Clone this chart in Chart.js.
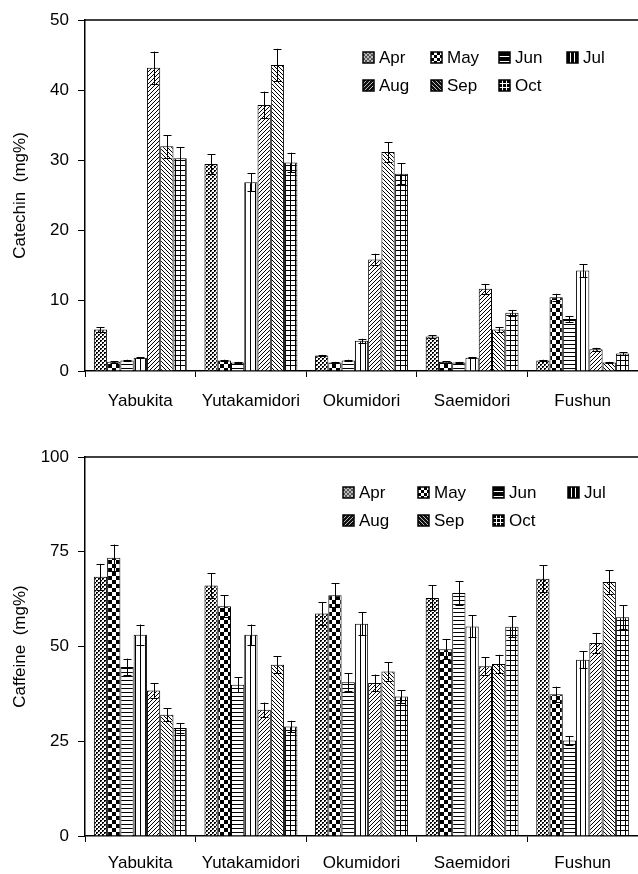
<!DOCTYPE html>
<html>
<head>
<meta charset="utf-8">
<script src="https://cdn.jsdelivr.net/npm/chart.js@4"></script>
<style>
  html, body { margin: 0; padding: 0; background: #fff; }
  #top { width: 638px; height: 420px; }
  #bottom { width: 638px; height: 454px; }
  .box { position: relative; }
</style>
</head>
<body>
<div class="box" id="top"><canvas id="catechin_chart"></canvas></div>
<div class="box" id="bottom"><canvas id="caffeine_chart"></canvas></div>
<script>
const cultivars = ["Yabukita", "Yutakamidori", "Okumidori", "Saemidori", "Fushun"];
const months = ["Apr", "May", "Jun", "Jul", "Aug", "Sep", "Oct"];

// catechin (mg%), one array per month across cultivars
const catAPR = [5.9, 29.5, 2.2, 4.9, 1.5];
const catMAY = [1.3, 1.5, 1.2, 1.3, 10.5];
const catJUN = [1.5, 1.2, 1.5, 1.2, 7.4];
const catJUL = [1.9, 26.9, 4.3, 1.9, 14.3];
const catAUG = [43.2, 37.9, 15.9, 11.7, 3.1];
const catSEP = [32.0, 43.6, 31.2, 5.9, 1.2];
const catOCT = [30.3, 29.7, 28.1, 8.3, 2.5];
const catErrAPR = [0.35, 1.4, 0.1, 0.2, 0.1];
const catErrMAY = [0.1, 0.1, 0.1, 0.1, 0.5];
const catErrJUN = [0.1, 0.1, 0.1, 0.1, 0.4];
const catErrJUL = [0.1, 1.3, 0.3, 0.1, 0.9];
const catErrAUG = [2.3, 1.9, 0.8, 0.7, 0.2];
const catErrSEP = [1.6, 2.3, 1.4, 0.3, 0.1];
const catErrOCT = [1.6, 1.4, 1.5, 0.4, 0.2];

// caffeine (mg%)
const cafAPR = [68.4, 66.1, 58.7, 62.8, 67.9];
const cafMAY = [73.4, 60.6, 63.5, 49.3, 37.4];
const cafJUN = [44.6, 39.9, 40.6, 64.1, 25.2];
const cafJUL = [53.1, 53.1, 56.0, 55.3, 46.5];
const cafAUG = [38.4, 33.3, 40.4, 44.8, 50.9];
const cafSEP = [32.0, 45.2, 43.4, 45.4, 67.0];
const cafOCT = [28.5, 28.9, 36.8, 55.2, 57.7];
const cafErrAPR = [3.4, 3.2, 3.0, 3.3, 3.5];
const cafErrMAY = [3.5, 2.9, 3.2, 2.7, 2.0];
const cafErrJUN = [2.2, 2.0, 2.4, 3.1, 1.2];
const cafErrJUL = [2.7, 2.7, 3.0, 2.9, 2.2];
const cafErrAUG = [1.9, 1.9, 2.2, 2.3, 2.7];
const cafErrSEP = [1.7, 2.2, 2.4, 2.4, 3.1];
const cafErrOCT = [1.3, 1.5, 1.6, 2.8, 3.2];

const catTicks = [0, 10, 20, 30, 40, 50];
const cafTicks = [0, 25, 50, 75, 100];

const FONT = "Liberation Sans, Arial, sans-serif";

// hatch patterns, one per month (bg/fg swapped for the legend swatches)
function makePattern(size, draw, bg, fg) {
  const c = document.createElement("canvas");
  c.width = size; c.height = size;
  const g = c.getContext("2d");
  g.fillStyle = bg;
  g.fillRect(0, 0, size, size);
  g.fillStyle = fg;
  g.strokeStyle = fg;
  draw(g, size);
  return c.getContext("2d").createPattern(c, "repeat");
}
const drawers = [
  [4, (g) => { g.fillRect(0, 0, 2, 2); g.fillRect(2, 2, 2, 2); g.fillStyle = "#888"; g.fillRect(1, 1, 1, 1); g.fillRect(3, 3, 1, 1); }],
  [8, (g) => { g.fillRect(0, 0, 4, 4); g.fillRect(4, 4, 4, 4); }],
  [4, (g) => { g.fillRect(0, 0, 4, 1); }],
  [5, (g) => { g.fillRect(0, 0, 1, 5); }],
  [4, (g) => { g.lineWidth = 1; g.beginPath(); g.moveTo(0, 4); g.lineTo(4, 0); g.moveTo(-1, 1); g.lineTo(1, -1); g.moveTo(3, 5); g.lineTo(5, 3); g.stroke(); }],
  [4, (g) => { g.lineWidth = 1; g.beginPath(); g.moveTo(0, 0); g.lineTo(4, 4); g.moveTo(3, -1); g.lineTo(5, 1); g.moveTo(-1, 3); g.lineTo(1, 5); g.stroke(); }],
  [5, (g) => { g.fillRect(0, 0, 5, 1); g.fillRect(0, 0, 1, 5); }],
];
const patterns = drawers.map(([s, d]) => makePattern(s, d, "#fff", "#000"));
const legendFill = [
  makePattern(4, (g) => { g.fillRect(0, 0, 2, 2); g.fillRect(2, 2, 2, 2); }, "#555", "#bbb"),
  makePattern(6, (g) => { g.fillRect(0, 0, 3, 3); g.fillRect(3, 3, 3, 3); }, "#fff", "#000"),
  makePattern(5, (g) => { g.fillRect(0, 4, 5, 1); }, "#000", "#fff"),
  makePattern(4, (g) => { g.fillRect(3, 0, 1, 4); }, "#000", "#fff"),
  makePattern(4, (g) => { g.lineWidth = 1; g.beginPath(); g.moveTo(0, 4); g.lineTo(4, 0); g.stroke(); }, "#111", "#bbb"),
  makePattern(4, (g) => { g.lineWidth = 1; g.beginPath(); g.moveTo(0, 0); g.lineTo(4, 4); g.stroke(); }, "#111", "#bbb"),
  makePattern(4, (g) => { g.fillRect(0, 3, 4, 1); g.fillRect(3, 0, 1, 4); }, "#000", "#fff"),
];

const errorBars = {
  id: "errorBars",
  afterDatasetsDraw(chart) {
    const ctx = chart.ctx;
    const ys = chart.scales.y;
    ctx.save();
    ctx.strokeStyle = "#000";
    ctx.lineWidth = 1;
    chart.data.datasets.forEach((ds, di) => {
      const meta = chart.getDatasetMeta(di);
      meta.data.forEach((bar, i) => {
        const v = ds.data[i], e = ds.errors[i];
        const x = Math.round(bar.x) + 0.5;
        const y1 = ys.getPixelForValue(v + e), y2 = ys.getPixelForValue(v - e);
        const cap = 4;
        ctx.beginPath();
        ctx.moveTo(x, y1); ctx.lineTo(x, y2);
        ctx.moveTo(x - cap, Math.round(y1) + 0.5); ctx.lineTo(x + cap, Math.round(y1) + 0.5);
        ctx.moveTo(x - cap, Math.round(y2) + 0.5); ctx.lineTo(x + cap, Math.round(y2) + 0.5);
        ctx.stroke();
      });
    });
    ctx.restore();
  },
};

const frameAndLegend = {
  id: "frameAndLegend",
  afterDraw(chart, args, opts) {
    const ctx = chart.ctx;
    const a = chart.chartArea;
    ctx.save();
    ctx.strokeStyle = "#000";
    ctx.lineWidth = 1.5;
    ctx.beginPath();
    ctx.moveTo(a.left, a.top);
    ctx.lineTo(chart.width, a.top);
    ctx.stroke();
    // legend, 4 per row
    ctx.font = "17px " + FONT;
    ctx.textBaseline = "middle";
    months.forEach((m, i) => {
      const col = i % 4, row = Math.floor(i / 4);
      const x = a.left + opts.x + col * opts.colW;
      const y = a.top + opts.y + row * opts.rowH;
      ctx.save();
      ctx.translate(x, y - 5);
      ctx.fillStyle = legendFill[i];
      ctx.fillRect(0, 0, 11, 11);
      ctx.lineWidth = 1.5;
      ctx.strokeStyle = "#000";
      ctx.strokeRect(0, 0, 11, 11);
      ctx.restore();
      ctx.fillStyle = "#000";
      ctx.fillText(m, x + 16, y + 1);
    });
    ctx.restore();
  },
};

function buildChart(id, series, errs, ticks, max, title, axisH, padTop, labelPad, legendPos) {
  return new Chart(document.getElementById(id), {
    type: "bar",
    data: {
      labels: cultivars,
      datasets: months.map((m, i) => ({
        label: m,
        data: series[i],
        errors: errs[i],
        backgroundColor: patterns[i],
        borderColor: "#000",
        borderWidth: 1,
        categoryPercentage: 0.84,
        barPercentage: 1.0,
      })),
    },
    options: {
      responsive: true,
      maintainAspectRatio: false,
      animation: false,
      layout: { padding: { top: padTop, right: 0, left: 0, bottom: 0 } },
      plugins: {
        legend: { display: false },
        tooltip: { enabled: false },
        frameAndLegend: legendPos,
      },
      scales: {
        x: {
          grid: { display: true, drawOnChartArea: false, offset: true, tickLength: 6, color: "#000", lineWidth: 1 },
          border: { display: true, color: "#000", width: 1.5 },
          ticks: { color: "#000", font: { family: FONT, size: 17 }, padding: labelPad, maxRotation: 0, autoSkip: false },
          afterFit(s) { s.height = axisH; },
        },
        y: {
          min: 0,
          max: max,
          afterBuildTicks(s) { s.ticks = ticks.map((v) => ({ value: v })); },
          grid: { display: true, drawOnChartArea: false, tickLength: 7, color: "#000", lineWidth: 1 },
          border: { display: true, color: "#000", width: 1.5 },
          ticks: { color: "#000", font: { family: FONT, size: 17 }, padding: 9 },
          title: { display: true, text: title, color: "#000", font: { family: FONT, size: 17 }, padding: { top: 10, bottom: 0 } },
          afterFit(s) { s.width = 85; },
        },
      },
    },
    plugins: [errorBars, frameAndLegend],
  });
}

buildChart("catechin_chart",
  [catAPR, catMAY, catJUN, catJUL, catAUG, catSEP, catOCT],
  [catErrAPR, catErrMAY, catErrJUN, catErrJUL, catErrAUG, catErrSEP, catErrOCT],
  catTicks, 50, "Catechin  (mg%)", 49, 20, 14,
  { x: 278, y: 37, colW: 68, rowH: 28 });

buildChart("caffeine_chart",
  [cafAPR, cafMAY, cafJUN, cafJUL, cafAUG, cafSEP, cafOCT],
  [cafErrAPR, cafErrMAY, cafErrJUN, cafErrJUL, cafErrAUG, cafErrSEP, cafErrOCT],
  cafTicks, 100, "Caffeine  (mg%)", 38, 37, 11,
  { x: 258, y: 35, colW: 75, rowH: 28 });
</script>
</body>
</html>
